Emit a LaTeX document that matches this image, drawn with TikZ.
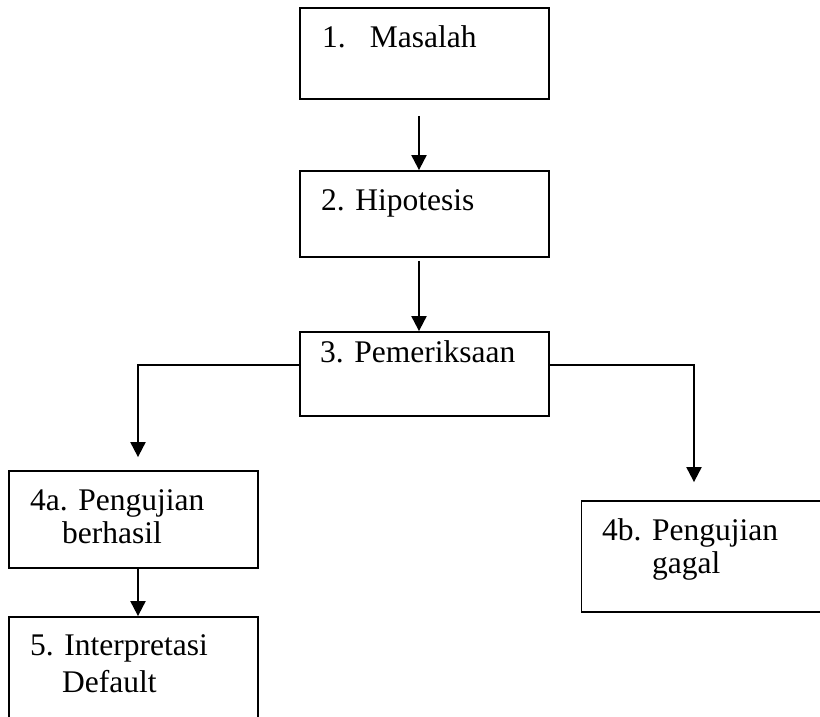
\documentclass[tikz,border=0pt]{standalone}
\usepackage{fontspec}
\setmainfont{Liberation Serif}
\usepackage{xcolor}
\usepackage{tikz}
\usetikzlibrary{arrows.meta,positioning,calc}

\begin{document}
\begin{tikzpicture}[x=1pt, y=-1pt,
    stepbox/.style={draw=black, line width=1.8pt, minimum width=249pt, inner sep=0pt},
    boxtext/.style={anchor=base west, inner sep=0pt, align=left, font=\fontsize{31.5}{33}\selectfont},
    flow/.style={-{Triangle[width=15pt,length=15pt]}, line width=2pt}]
    \useasboundingbox (0,0) rectangle (820,716);
    \clip (0,0) rectangle (820,716);
    % boxes
    \node[stepbox, minimum height=91pt] (masalah) at (424.5,53.5) {};
    \node[stepbox, minimum height=86pt] (hipotesis) at (424.5,214) {};
    \node[stepbox, minimum height=84pt] (periksa) at (424.5,374) {};
    \node[stepbox, minimum height=97pt] (berhasil) at (133.5,519.5) {};
    \node[stepbox, minimum height=113pt] (interpretasi) at (133.5,673.5) {};
    \node[stepbox, minimum height=111pt] (gagal) at (706,556.5) {};
    % texts (two-line nodes sit on their last baseline)
    \node[boxtext] (tmasalah) at (322,47) {1.\hspace{24pt}Masalah};
    \node[boxtext] (thipotesis) at (321,210) {2. Hipotesis};
    \node[boxtext] (tperiksa) at (320,362) {3. Pemeriksaan};
    \node[boxtext] (tberhasil) at (30,543) {4a. Pengujian\\\hspace*{32pt}berhasil};
    \node[boxtext] (tinterpretasi) at (30,692) {5. Interpretasi\\[4pt]\hspace*{32pt}Default};
    \node[boxtext] (tgagal) at (602,573) {4b. Pengujian\\\hspace*{50pt}gagal};
    % arrows
    \draw[flow, shorten <=16pt] ([xshift=-5.5pt]masalah.south) -- ([xshift=-5.5pt]hipotesis.north);
    \draw[flow, shorten <=3pt] ([xshift=-5.5pt]hipotesis.south) -- ([xshift=-5.5pt]periksa.north);
    \draw[flow, shorten >=13pt] ([yshift=9pt]periksa.west) -| ([xshift=4.5pt]berhasil.north);
    \draw[flow, shorten >=18pt] ([yshift=9pt]periksa.east) -| ([xshift=-12pt]gagal.north);
    \draw[flow] ([xshift=4.5pt]berhasil.south) -- ([xshift=4.5pt]interpretasi.north);
\end{tikzpicture}
\end{document}
